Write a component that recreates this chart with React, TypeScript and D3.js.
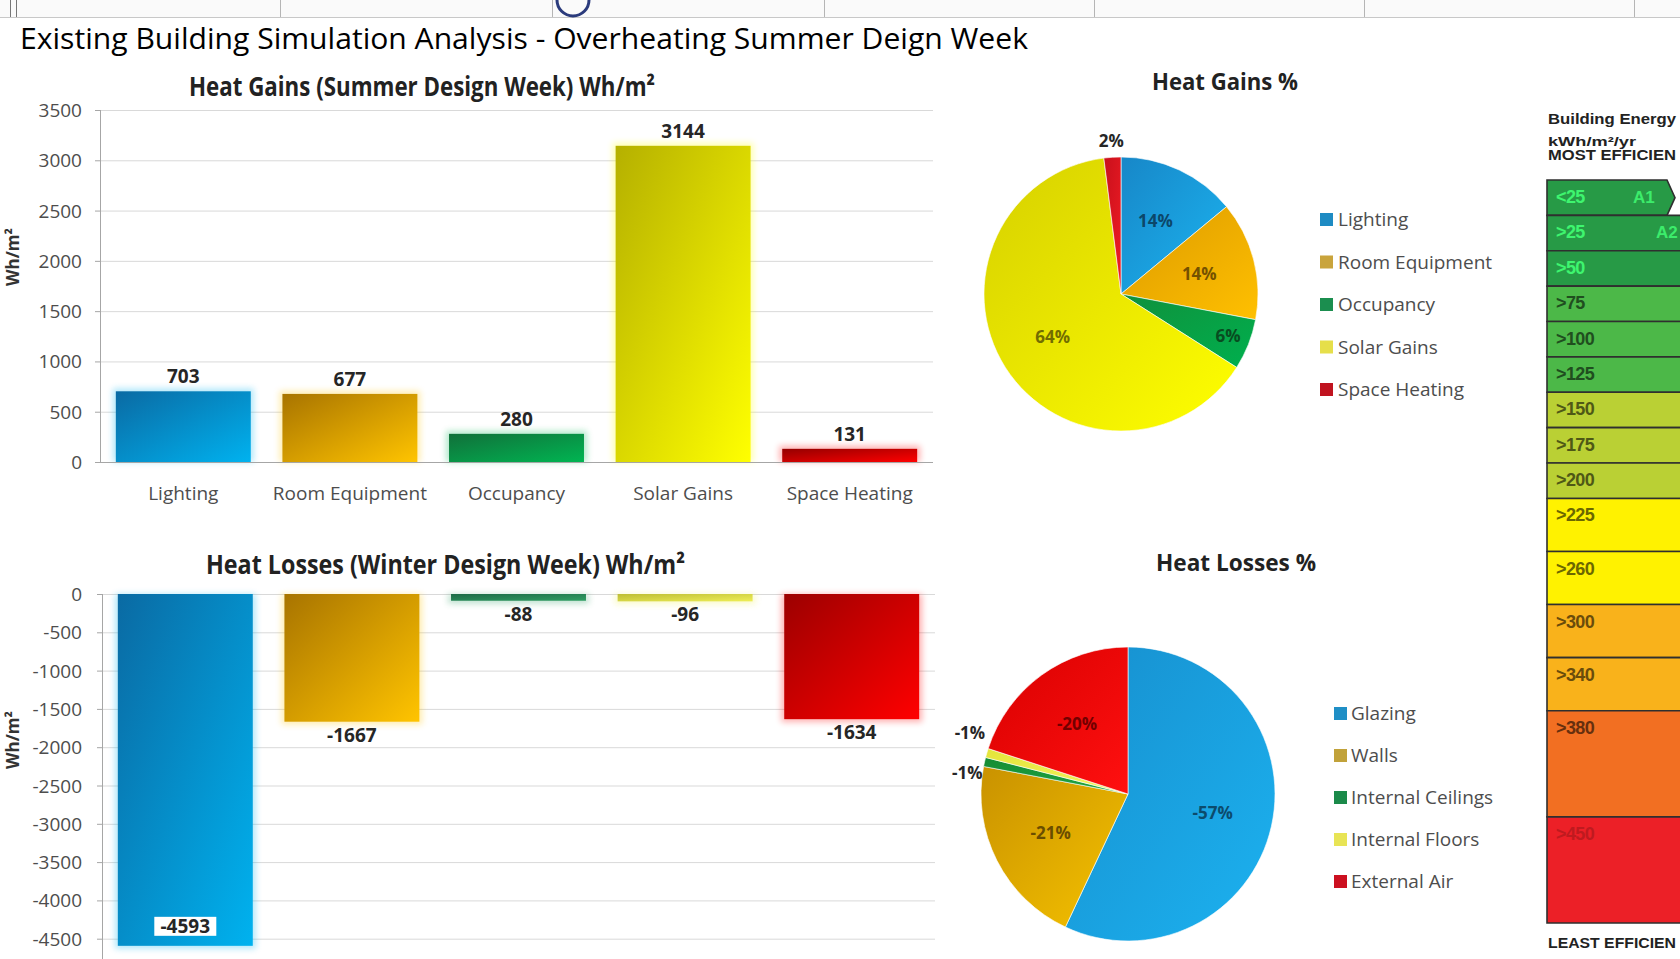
import React from 'react';
import * as d3 from 'd3';

const W = 1680;
const H = 959;

// ---------- data ----------
const gainCategories = ['Lighting', 'Room Equipment', 'Occupancy', 'Solar Gains', 'Space Heating'];
const gainValues = [703, 677, 280, 3144, 131];
const gainTicks = [0, 500, 1000, 1500, 2000, 2500, 3000, 3500];

const lossCategories = ['Glazing', 'Walls', 'Internal Ceilings', 'Internal Floors', 'External Air'];
const lossValues = [-4593, -1667, -88, -96, -1634];
const lossTicks = [0, -500, -1000, -1500, -2000, -2500, -3000, -3500, -4000, -4500];

const gainSharePct = [14, 14, 6, 64, 2];
const lossSharePct = [-57, -21, -1, -1, -20];

const ratingLabels = ['<25', '>25', '>50', '>75', '>100', '>125', '>150', '>175', '>200', '>225', '>260', '>300', '>340', '>380', '>450'];
const ratingGrades = ['A1', 'A2'];
const ratingSpans = [1, 1, 1, 1, 1, 1, 1, 1, 1, 1.5, 1.5, 1.5, 1.5, 3, 3];

// ---------- styles ----------
const gainBarColors = [
  ['#0a6aa3', '#00b2ef'],
  ['#a87400', '#ffc400'],
  ['#11703a', '#00b552'],
  ['#b5b000', '#ffff00'],
  ['#940000', '#ff0000'],
];
const lossBarColors = [
  ['#0a6aa3', '#00b2ef'],
  ['#a87400', '#ffc400'],
  ['#1d6a47', '#2f9e63'],
  ['#bdbd35', '#eeee55'],
  ['#9c0000', '#ff0000'],
];
const gainPieColors = [
  ['#1787c8', '#1cb4f0'],
  ['#dc9a00', '#ffc000'],
  ['#10903c', '#00b04e'],
  ['#d6d000', '#ffff00'],
  ['#c8101c', '#f01c24'],
];
const lossPieColors = [
  ['#178fce', '#1cb2f0'],
  ['#c99200', '#f5c200'],
  ['#138c34', '#23a844'],
  ['#e4e43a', '#f4f460'],
  ['#d80000', '#ff1010'],
];
const gainLegendColors = ['#1e8bc3', '#c9a43c', '#1b8e4f', '#e6df4a', '#c0131f'];
const lossLegendColors = ['#1f8fc6', '#c1a23a', '#1b8a4a', '#e8e455', '#cc1020'];
const ratingColors = ['#279a46', '#279a46', '#279a46', '#4cb848', '#4cb848', '#4cb848', '#bad034', '#bad034', '#bad034', '#fff200', '#fff200', '#f9b21b', '#f9b21b', '#f26f22', '#ec2027'];

const FONT = "'Open Sans', 'DejaVu Sans', sans-serif";

function pieLabels(values: number[], cx: number, cy: number, r: number) {
  const pie = d3.pie<number>().sort(null).value((d) => Math.abs(d));
  const arcs = pie(values);
  const items = arcs.map((a, i) => {
    const mid = (a.startAngle + a.endAngle) / 2;
    const pct = Math.abs(values[i]);
    const outside = pct < 3;
    const f = outside ? 1.12 : pct < 10 ? 0.84 : 0.59;
    return { i, a, outside, x: cx + Math.sin(mid) * r * f, y: cy - Math.cos(mid) * r * f };
  });
  const outs = items.filter((d) => d.outside).sort((p, q) => p.y - q.y);
  const gap = 40;
  for (let k = 0; k < 20; k++) {
    for (let j = 1; j < outs.length; j++) {
      const d = outs[j].y - outs[j - 1].y;
      if (d < gap) {
        const push = (gap - d) / 2;
        outs[j].y += push;
        outs[j - 1].y -= push;
      }
    }
  }
  return items;
}

export default function App() {
  React.useEffect(() => {
    document.body.style.margin = '0';
  }, []);

  const xG = d3.scaleBand<string>().domain(gainCategories).range([100, 933]).paddingInner(0.19).paddingOuter(0.095);
  const yG = d3.scaleLinear().domain([0, 3500]).range([462, 110]);

  const xL = d3.scaleBand<string>().domain(lossCategories).range([102, 935]).paddingInner(0.19).paddingOuter(0.095);
  const yL = d3.scaleLinear().domain([-5000, 0]).range([977, 594]);

  const gcx = 1121, gcy = 294, gr = 137;
  const lcx = 1128, lcy = 794, lr = 147;
  const arcG = d3.arc<d3.PieArcDatum<number>>().innerRadius(0).outerRadius(gr);
  const arcL = d3.arc<d3.PieArcDatum<number>>().innerRadius(0).outerRadius(lr);
  const gainPie = pieLabels(gainSharePct, gcx, gcy, gr);
  const lossPie = pieLabels(lossSharePct, lcx, lcy, lr);

  const cum = [0, ...Array.from(d3.cumsum(ratingSpans))];
  const yR = d3.scaleLinear().domain([0, d3.sum(ratingSpans)]).range([180, 923]);

  const tickColor = '#4d4d4d';

  return (
    <svg
      width={W}
      height={H}
      viewBox={`0 0 ${W} ${H}`}
      style={{ display: 'block', position: 'absolute', left: 0, top: 0, background: '#ffffff' }}
      fontFamily={FONT}
    >
      <defs>
        <filter id="glow" filterUnits="userSpaceOnUse" x={0} y={0} width={W} height={H}>
          <feGaussianBlur stdDeviation={3} />
        </filter>
        {gainBarColors.map((c, i) => (
          <linearGradient key={'gb' + i} id={'gb' + i} x1="0" y1="0" x2="1" y2="1">
            <stop offset="0" stopColor={c[0]} />
            <stop offset="1" stopColor={c[1]} />
          </linearGradient>
        ))}
        {lossBarColors.map((c, i) => (
          <linearGradient key={'lb' + i} id={'lb' + i} x1="0" y1="0" x2="1" y2="1">
            <stop offset="0" stopColor={c[0]} />
            <stop offset="1" stopColor={c[1]} />
          </linearGradient>
        ))}
        {gainPieColors.map((c, i) => (
          <linearGradient key={'gp' + i} id={'gp' + i} x1="0" y1="0" x2="1" y2="1">
            <stop offset="0" stopColor={c[0]} />
            <stop offset="1" stopColor={c[1]} />
          </linearGradient>
        ))}
        {lossPieColors.map((c, i) => (
          <linearGradient key={'lp' + i} id={'lp' + i} x1="0" y1="0" x2="1" y2="1">
            <stop offset="0" stopColor={c[0]} />
            <stop offset="1" stopColor={c[1]} />
          </linearGradient>
        ))}
      </defs>

      {/* top strip fragment */}
      <rect x={0} y={0} width={W} height={17} fill="#fafafa" />
      <line x1={0} x2={W} y1={17.5} y2={17.5} stroke="#c8c8c8" />
      <line x1={10.5} x2={10.5} y1={0} y2={17} stroke="#777" />
      <line x1={16.5} x2={16.5} y1={0} y2={17} stroke="#777" />
      {[280, 552, 824, 1094, 1364, 1634].map((x) => (
        <line key={x} x1={x + 0.5} x2={x + 0.5} y1={0} y2={17} stroke="#b5b5b5" />
      ))}
      <path d="M 557 0 A 16 16 0 0 0 589 0" fill="none" stroke="#2b3b7c" strokeWidth={3} />

      {/* main title */}
      <text x={20} y={49} fontSize={29} fill="#000" textLength={1008} lengthAdjust="spacingAndGlyphs">
        Existing Building Simulation Analysis - Overheating Summer Deign Week
      </text>

      {/* ===== Heat gains bar chart ===== */}
      <text x={189} y={96} fontSize={26} fontWeight="bold" fill="#222" textLength={466} lengthAdjust="spacingAndGlyphs">
        Heat Gains (Summer Design Week) Wh/m²
      </text>
      {gainTicks.map((t) => (
        <g key={'gt' + t}>
          {t !== 0 && <line x1={100} x2={933} y1={yG(t) + 0.5} y2={yG(t) + 0.5} stroke="#d9d9d9" />}
          <line x1={95} x2={100} y1={yG(t) + 0.5} y2={yG(t) + 0.5} stroke="#a6a6a6" />
          <text x={82} y={yG(t) + 7} fontSize={19} textAnchor="end" fill={tickColor}>
            {t}
          </text>
        </g>
      ))}
      <line x1={100.5} x2={100.5} y1={110} y2={462} stroke="#a6a6a6" />
      <text transform={`translate(19,257) rotate(-90)`} fontSize={17} fontWeight="bold" textAnchor="middle" fill="#333">
        Wh/m²
      </text>
      {gainCategories.map((c, i) => {
        const x = xG(c)!;
        const w = xG.bandwidth();
        const y = yG(gainValues[i]);
        const h = yG(0) - y;
        return (
          <g key={'gbar' + i}>
            <rect x={x - 3} y={y - 3} width={w + 6} height={h + 3} fill={gainBarColors[i][1]} opacity={0.3} filter="url(#glow)" />
            <rect x={x} y={y} width={w} height={h} fill={`url(#gb${i})`} />
            <text x={x + w / 2} y={y - 8} fontSize={19} fontWeight="bold" textAnchor="middle" fill="#262626">
              {gainValues[i]}
            </text>
            <text x={x + w / 2} y={500} fontSize={19} textAnchor="middle" fill={tickColor}>
              {c}
            </text>
          </g>
        );
      })}
      <line x1={100} x2={933} y1={yG(0) + 0.5} y2={yG(0) + 0.5} stroke="#a6a6a6" />

      {/* ===== Heat losses bar chart ===== */}
      <text x={206} y={574} fontSize={26} fontWeight="bold" fill="#222" textLength={479} lengthAdjust="spacingAndGlyphs">
        Heat Losses (Winter Design Week) Wh/m²
      </text>
      {lossTicks.map((t) => (
        <g key={'lt' + t}>
          <line x1={102} x2={935} y1={yL(t) + 0.5} y2={yL(t) + 0.5} stroke="#d9d9d9" />
          <line x1={97} x2={102} y1={yL(t) + 0.5} y2={yL(t) + 0.5} stroke="#a6a6a6" />
          <text x={82} y={yL(t) + 7} fontSize={19} textAnchor="end" fill={tickColor}>
            {t}
          </text>
        </g>
      ))}
      <line x1={102.5} x2={102.5} y1={594} y2={H} stroke="#a6a6a6" />
      <text transform={`translate(19,740) rotate(-90)`} fontSize={17} fontWeight="bold" textAnchor="middle" fill="#333">
        Wh/m²
      </text>
      {lossCategories.map((c, i) => {
        const x = xL(c)!;
        const w = xL.bandwidth();
        const y0 = yL(0);
        const y1 = yL(lossValues[i]);
        const h = y1 - y0;
        const outside = y1 + 26 < H;
        const label = String(lossValues[i]);
        const lw = label.length * 11.2 + 6;
        return (
          <g key={'lbar' + i}>
            <rect x={x - 3} y={y0} width={w + 6} height={h + 3} fill={lossBarColors[i][1]} opacity={0.3} filter="url(#glow)" />
            <rect x={x} y={y0} width={w} height={h} fill={`url(#lb${i})`} />
            {outside ? (
              <text x={x + w / 2} y={y1 + 20} fontSize={19} fontWeight="bold" textAnchor="middle" fill="#262626">
                {label}
              </text>
            ) : (
              <g>
                <rect x={x + w / 2 - lw / 2} y={y1 - 29} width={lw} height={19} fill="#ffffff" />
                <text x={x + w / 2} y={y1 - 13} fontSize={19} fontWeight="bold" textAnchor="middle" fill="#262626">
                  {label}
                </text>
              </g>
            )}
          </g>
        );
      })}

      {/* ===== Heat gains pie ===== */}
      <text x={1225} y={90} fontSize={24} fontWeight="bold" textAnchor="middle" fill="#222" textLength={146} lengthAdjust="spacingAndGlyphs">
        Heat Gains %
      </text>
      {gainPie.map((d) => (
        <path key={'gps' + d.i} transform={`translate(${gcx},${gcy})`} d={arcG(d.a)!} fill={`url(#gp${d.i})`} stroke="#ffffff" strokeOpacity={0.6} strokeWidth={1} />
      ))}
      {gainPie.map((d) => (
        <text
          key={'gpl' + d.i}
          x={d.x}
          y={d.y + 6}
          fontSize={17}
          fontWeight="bold"
          textAnchor="middle"
          fill={d.outside ? '#262626' : d3.color(gainPieColors[d.i][0])!.darker(1.8).formatHex()}
        >
          {gainSharePct[d.i]}%
        </text>
      ))}
      {gainCategories.map((c, i) => (
        <g key={'gleg' + i}>
          <rect x={1320} y={213 + i * 42.5} width={13} height={13} fill={gainLegendColors[i]} />
          <text x={1338} y={226 + i * 42.5} fontSize={19} fill={tickColor}>
            {c}
          </text>
        </g>
      ))}

      {/* ===== Heat losses pie ===== */}
      <text x={1236} y={571} fontSize={24} fontWeight="bold" textAnchor="middle" fill="#222" textLength={160} lengthAdjust="spacingAndGlyphs">
        Heat Losses %
      </text>
      {lossPie.map((d) => (
        <path key={'lps' + d.i} transform={`translate(${lcx},${lcy})`} d={arcL(d.a)!} fill={`url(#lp${d.i})`} stroke="#ffffff" strokeOpacity={0.6} strokeWidth={1} />
      ))}
      {lossPie.map((d) => (
        <text
          key={'lpl' + d.i}
          x={d.x}
          y={d.y + 6}
          fontSize={17}
          fontWeight="bold"
          textAnchor="middle"
          fill={d.outside ? '#262626' : d3.color(lossPieColors[d.i][0])!.darker(1.8).formatHex()}
        >
          {lossSharePct[d.i]}%
        </text>
      ))}
      {lossCategories.map((c, i) => (
        <g key={'lleg' + i}>
          <rect x={1334} y={707 + i * 42} width={13} height={13} fill={lossLegendColors[i]} />
          <text x={1351} y={720 + i * 42} fontSize={19} fill={tickColor}>
            {c}
          </text>
        </g>
      ))}

      {/* ===== Energy rating scale ===== */}
      <g fontFamily="'Liberation Sans', Arial, sans-serif">
        <text x={1548} y={124} fontSize={14} fontWeight="bold" fill="#222" textLength={128} lengthAdjust="spacingAndGlyphs">
          Building Energy
        </text>
        <text x={1548} y={146} fontSize={13} fontWeight="bold" fill="#222" textLength={88} lengthAdjust="spacingAndGlyphs">
          kWh/m²/yr
        </text>
        <text x={1548} y={160} fontSize={14} fontWeight="bold" fill="#222" textLength={128} lengthAdjust="spacingAndGlyphs">
          MOST EFFICIEN
        </text>
        {ratingLabels.map((lab, i) => {
          const y0 = yR(cum[i]);
          const y1 = yR(cum[i + 1]);
          const x0 = 1547;
          const right = i === 0 ? 1667 : W + 10;
          const tip = 8;
          const pts = `${x0},${y0} ${right},${y0} ${right + tip},${(y0 + y1) / 2} ${right},${y1} ${x0},${y1}`;
          const base = d3.color(ratingColors[i])!;
          const txt = i < 3 ? base.brighter(1.3).formatHex() : i === ratingLabels.length - 1 ? base.darker(0.6).formatHex() : base.darker(2.4).formatHex();
          return (
            <g key={'r' + i}>
              <polygon points={pts} fill={ratingColors[i]} stroke="#2f2f2f" strokeWidth={1.6} />
              <text x={1556} y={y0 + 23} fontSize={18} fontWeight="bold" letterSpacing={-0.6} fill={txt}>
                {lab}
              </text>
              {i < ratingGrades.length && (
                <text x={1633 + i * 23} y={y0 + 23} fontSize={17} fontWeight="bold" fill={base.brighter(1.2).formatHex()}>
                  {ratingGrades[i]}
                </text>
              )}
            </g>
          );
        })}
        <text x={1548} y={948} fontSize={14} fontWeight="bold" fill="#222" textLength={128} lengthAdjust="spacingAndGlyphs">
          LEAST EFFICIEN
        </text>
      </g>
    </svg>
  );
}
